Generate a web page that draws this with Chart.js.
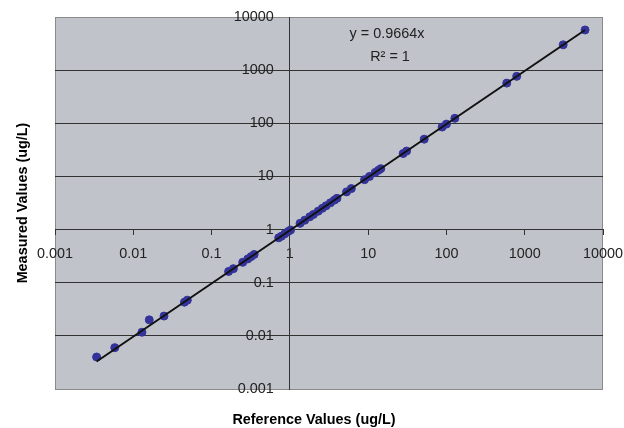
<!DOCTYPE html>
<html>
<head>
<meta charset="utf-8">
<script src="https://cdn.jsdelivr.net/npm/chart.js@4/dist/chart.umd.min.js"></script>
<style>
  html, body { margin: 0; padding: 0; background: #fff; }
  #wrap { width: 624px; height: 428px; }
</style>
</head>
<body>
<div id="wrap"><canvas id="chart" width="624" height="428"></canvas></div>
<script>
// reference (x) vs measured (y), ug/L
const referenceValues = [0.0034, 0.0058, 0.0129, 0.016, 0.0247, 0.045, 0.049, 0.165, 0.19, 0.25, 0.29, 0.32, 0.35,
  0.72, 0.78, 0.86, 0.95, 1.02, 1.35, 1.55, 1.8, 2.0, 2.3, 2.6, 2.9, 3.3, 3.7, 4.0, 5.3, 6.1,
  9.0, 10.4, 12.3, 13.5, 14.5, 28, 31, 52, 88, 100, 128, 590, 790, 3100, 5900];
const measuredValues = [0.0040, 0.0060, 0.0117, 0.0200, 0.0236, 0.043, 0.047, 0.163, 0.184, 0.242, 0.28, 0.31, 0.34,
  0.70, 0.75, 0.83, 0.92, 0.98, 1.31, 1.50, 1.74, 1.93, 2.22, 2.51, 2.80, 3.19, 3.58, 3.87, 5.12, 5.9,
  8.7, 10.0, 11.9, 13.0, 14.0, 27.0, 30.0, 50.3, 85, 96.6, 124, 570, 764, 2996, 5700];

// trendline end points (y = 0.9664x)
const trendX = [0.0034, 5900];
const trendY = [0.00329, 5702];
const trendText = ['y = 0.9664x', 'R² = 1'];

const tickValues = [0.001, 0.01, 0.1, 1, 10, 100, 1000, 10000];
const tickLabels = ['0.001', '0.01', '0.1', '1', '10', '100', '1000', '10000'];

const xTitle = 'Reference Values (ug/L)';
const yTitle = 'Measured Values (ug/L)';

const fontFamily = '"Liberation Sans", Arial, Helvetica, sans-serif';
const tickFont = { family: fontFamily, size: 14.4 };

function decadeTicks(scale) {
  scale.ticks = tickValues.map((v) => ({ value: v }));
}

// axes sit inside the plot area, so they take no room in the layout
function noRoom(scale) {
  if (scale.isHorizontal()) scale.height = 0; else scale.width = 0;
  scale.paddingLeft = 0;
  scale.paddingRight = 0;
  scale.paddingTop = 0;
  scale.paddingBottom = 0;
}

function labelFor(value) {
  const i = tickValues.findIndex((v) => Math.abs(v - value) / v < 1e-6);
  return i >= 0 ? tickLabels[i] : '';
}

const plotBackground = {
  id: 'plotBackground',
  beforeDraw(chart) {
    const { ctx, chartArea: a } = chart;
    ctx.save();
    ctx.fillStyle = '#ffffff';
    ctx.fillRect(0, 0, chart.width, chart.height);
    ctx.fillStyle = '#c0c3ca';
    ctx.fillRect(a.left, a.top, a.right - a.left, a.bottom - a.top);
    ctx.strokeStyle = '#8a8a8a';
    ctx.lineWidth = 1;
    ctx.strokeRect(a.left + 0.5, a.top + 0.5, a.right - a.left - 1, a.bottom - a.top);
    ctx.restore();

    // y labels of a value-positioned axis get no padding from Chart.js; move them off the axis line
    const yScale = chart.scales.y;
    const items = yScale.getLabelItems(a);
    if (!items._shifted) {
      items.forEach((it) => { it.options.translation[0] -= 16; });
      items._shifted = true;
    }
  }
};

const chartTexts = {
  id: 'chartTexts',
  afterDraw(chart) {
    const { ctx, chartArea: a } = chart;
    ctx.save();
    ctx.fillStyle = '#000';
    ctx.textAlign = 'center';
    ctx.textBaseline = 'middle';
    ctx.font = 'bold 14.4px ' + fontFamily;
    ctx.fillText(xTitle, 314, 420);
    ctx.translate(23, (a.top + a.bottom) / 2);
    ctx.rotate(-Math.PI / 2);
    ctx.fillText(yTitle, 0, 0);
    ctx.restore();

    ctx.save();
    ctx.fillStyle = '#222';
    ctx.textAlign = 'center';
    ctx.textBaseline = 'middle';
    ctx.font = '14.4px ' + fontFamily;
    ctx.fillText(trendText[0], 387, 34);
    ctx.fillText(trendText[1], 390, 57);
    ctx.restore();
  }
};

new Chart(document.getElementById('chart'), {
  type: 'scatter',
  data: {
    datasets: [
      {
        label: 'Linear',
        data: trendX.map((x, i) => ({ x, y: trendY[i] })),
        showLine: true,
        borderColor: '#111',
        borderWidth: 2,
        pointRadius: 0,
        order: 0
      },
      {
        label: 'Measured',
        data: referenceValues.map((x, i) => ({ x, y: measuredValues[i] })),
        backgroundColor: '#333399',
        borderColor: '#333399',
        borderWidth: 1,
        pointRadius: 4,
        order: 1
      }
    ]
  },
  options: {
    responsive: false,
    animation: false,
    layout: { padding: { left: 55, right: 21, top: 17, bottom: 39 } },
    plugins: {
      legend: { display: false },
      tooltip: { enabled: false }
    },
    scales: {
      x: {
        type: 'logarithmic',
        min: 0.001,
        max: 10000,
        position: { y: 1 },
        afterBuildTicks: decadeTicks,
        afterFit: noRoom,
        grid: { drawOnChartArea: false, drawTicks: true, tickLength: 5, color: '#333' },
        border: { display: true, color: '#333', width: 1 },
        ticks: {
          autoSkip: false,
          maxRotation: 0,
          padding: 11,
          color: '#222',
          font: tickFont,
          callback: (value) => labelFor(value)
        }
      },
      y: {
        type: 'logarithmic',
        min: 0.001,
        max: 10000,
        position: { x: 1 },
        afterBuildTicks: decadeTicks,
        afterFit: noRoom,
        grid: {
          drawOnChartArea: true,
          drawTicks: true,
          tickLength: 5,
          color: (ctx) => (ctx.tick && (ctx.tick.value === 0.001 || ctx.tick.value === 10000) ? '#8a8a8a' : '#333')
        },
        border: { display: true, color: '#333', width: 1 },
        ticks: {
          autoSkip: false,
          color: '#222',
          font: tickFont,
          callback: (value) => labelFor(value)
        }
      }
    }
  },
  plugins: [plotBackground, chartTexts]
});
</script>
</body>
</html>
